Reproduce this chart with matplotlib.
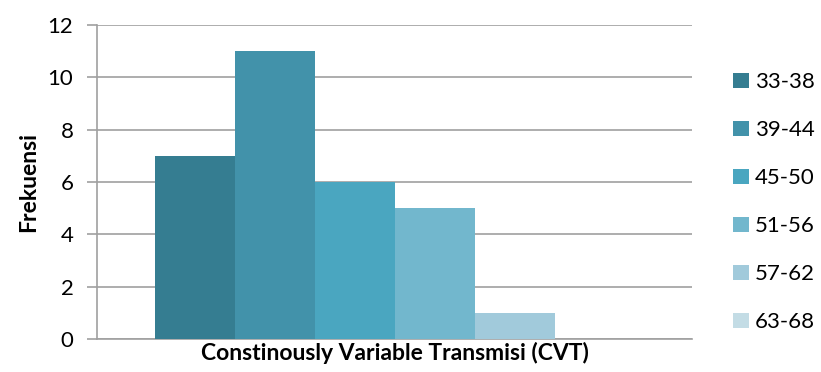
import matplotlib.pyplot as plt

plt.rcParams['font.family'] = ['Lato', 'DejaVu Sans']

# data
kelas = ['33-38', '39-44', '45-50', '51-56', '57-62', '63-68']
frekuensi = [7, 11, 6, 5, 1, 0]
warna = ['#357D91', '#4292AA', '#4AA6C0', '#72B7CD', '#A1CADB', '#C3DCE5']

fig = plt.figure(figsize=(8.21, 3.72), dpi=100)
ax = fig.add_axes([97 / 821, 1 - 339 / 372, 595 / 821, 314 / 372])

lebar = 80 / 595  # width of one bar in axes units (x range 0..1)
n = len(kelas)
for i, (k, f, c) in enumerate(zip(kelas, frekuensi, warna)):
    x = 0.5 + (i - (n - 1) / 2) * lebar
    ax.bar(x, f, width=lebar, color=c, label=k, zorder=3)

ax.set_xlim(0, 1)
ax.set_ylim(0, 12)
ax.set_yticks(range(0, 13, 2))
ax.set_xticks([])
ax.yaxis.grid(True, color='#A0A0A0', linewidth=1.2, zorder=0)
for s in ['top', 'right']:
    ax.spines[s].set_visible(False)
for s in ['left', 'bottom']:
    ax.spines[s].set_color('#A0A0A0')
    ax.spines[s].set_linewidth(1.2)
ax.tick_params(axis='y', length=7, width=1.2, color='#A0A0A0', labelsize=16, pad=10)

ax.set_ylabel('Frekuensi', fontsize=16.5, fontweight='bold', labelpad=6)
ax.set_xlabel('Constinously Variable Transmisi (CVT)', fontsize=16.5, fontweight='bold', labelpad=2)

ax.legend(loc='center left', bbox_to_anchor=(1.036, 0.435), frameon=False, fontsize=16,
          handlelength=0.68, handleheight=0.68, handletextpad=0.3, labelspacing=1.26)

fig.savefig('out.png', dpi=100)
